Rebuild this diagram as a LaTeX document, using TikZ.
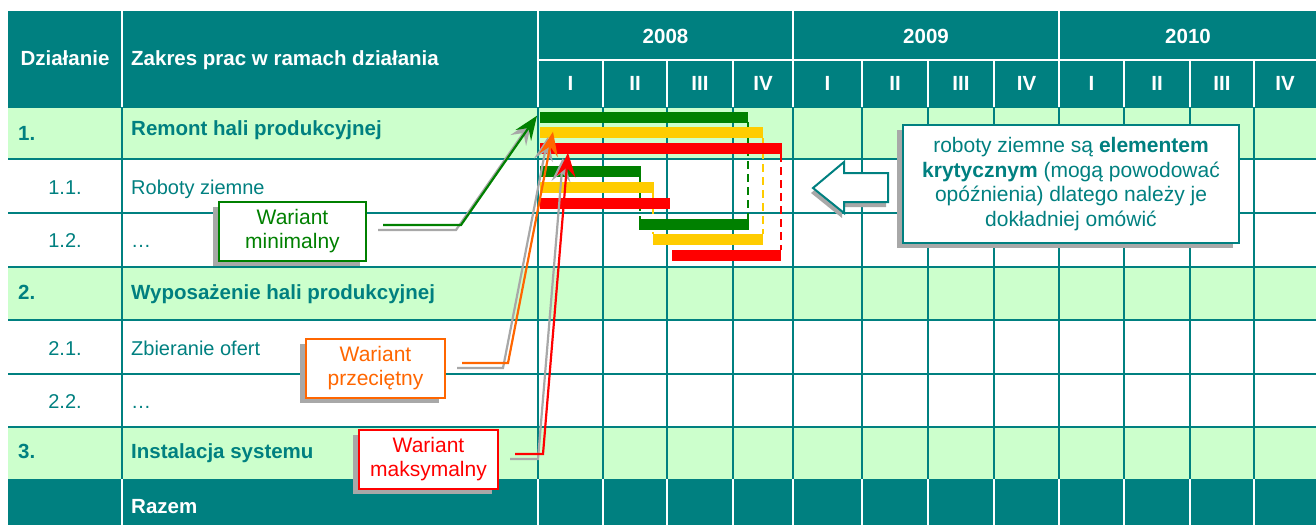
\documentclass[tikz,border=0pt]{standalone}
\usepackage{fontspec}
\setmainfont{Liberation Sans}
\usetikzlibrary{arrows.meta}
\definecolor{teal0}{HTML}{008080}
\definecolor{lgreen}{HTML}{CCFFCC}
\definecolor{dgreen}{HTML}{008000}
\definecolor{ylw}{HTML}{FFCC00}
\definecolor{orng}{HTML}{FF6600}
\definecolor{shad}{HTML}{A8A8A8}
\begin{document}
\begin{tikzpicture}[x=1pt,y=-1pt,
  hdr/.style={inner sep=0pt, text=white, font=\fontsize{20.5}{24}\selectfont\bfseries},
  cell/.style={inner sep=0pt, text=teal0, font=\fontsize{20}{24}\selectfont},
  cellb/.style={inner sep=0pt, text=teal0, font=\fontsize{20.5}{24}\selectfont\bfseries},
  gridT/.style={teal0, line width=2.2pt},
  gridW/.style={white, line width=2.2pt},
  bar/.style={inner sep=0pt, minimum height=11pt, anchor=north west},
  dsh/.style={line width=2.6pt, dash pattern=on 8pt off 5pt},
  callout/.style={draw, line width=2pt, fill=white, inner sep=0pt, minimum height=59pt, align=center, font=\fontsize{21}{24}\selectfont},
  conn/.style={line width=2.2pt, -{Stealth[length=24pt,width=19pt,inset=9pt]}},
  shadowline/.style={conn, shad, transform canvas={xshift=-5pt,yshift=-5pt}},
  boxshadow/.style={fill=shad}
]
\useasboundingbox (0,0) rectangle (1316,525);
% header background
\fill[teal0] (8,11) rectangle (1316,107);
% body rows
\fill[lgreen] (8,107) rectangle (1316,159);
\fill[lgreen] (8,267) rectangle (1316,320);
\fill[lgreen] (8,427) rectangle (1316,479);
\fill[teal0] (8,479) rectangle (1316,525);
% body grid lines
\foreach \y in {107,159,213,267,320,374,427}
  \draw[gridT] (8,\y) -- (1316,\y);
\foreach \x in {122,538,603,667,733,793,862,928,994,1059,1124,1190,1254}
  \draw[gridT] (\x,107) -- (\x,479);
% header white lines
\foreach \x in {122,538,793,1059}
  \draw[gridW] (\x,11) -- (\x,107);
\draw[gridW] (538,60) -- (1316,60);
\foreach \x in {603,667,733,862,928,994,1124,1190,1254}
  \draw[gridW] (\x,60) -- (\x,107);
% Razem white lines
\foreach \x in {122,538,603,667,733,793,862,928,994,1059,1124,1190,1254}
  \draw[gridW] (\x,479) -- (\x,525);
% header texts
\node[hdr, anchor=base] (hd) at (65,65) {Działanie};
\node[hdr, anchor=base west] (hz) at (131,65) {Zakres prac w ramach działania};
\node[hdr, anchor=base] (y8) at (665.5,43) {2008};
\node[hdr, anchor=base] (y9) at (926,43) {2009};
\node[hdr, anchor=base] (y10) at (1188,43) {2010};
\foreach \c/\q [count=\i] in {570.5/I,635/II,700/III,763/IV,827.5/I,895/II,961/III,1026.5/IV,1091.5/I,1157/II,1222/III,1285/IV}
  \node[hdr, anchor=base] (q\i) at (\c,90) {\q};
% row texts
\node[cellb, anchor=base west] (n1) at (18,140) {1.};
\node[cellb, anchor=base west] (t1) at (131,135) {Remont hali produkcyjnej};
\node[cell, anchor=base] (n11) at (65,194) {1.1.};
\node[cell, anchor=base west] (t11) at (131,194) {Roboty ziemne};
\node[cell, anchor=base] (n12) at (65,247) {1.2.};
\node[cell, anchor=base west] (t12) at (131,247) {…};
\node[cellb, anchor=base west] (n2) at (18,299) {2.};
\node[cellb, anchor=base west] (t2) at (131,299) {Wyposażenie hali produkcyjnej};
\node[cell, anchor=base] (n21) at (65,355) {2.1.};
\node[cell, anchor=base west] (t21) at (131,355) {Zbieranie ofert};
\node[cell, anchor=base] (n22) at (65,408) {2.2.};
\node[cell, anchor=base west] (t22) at (131,408) {…};
\node[cellb, anchor=base west] (n3) at (18,458) {3.};
\node[cellb, anchor=base west] (t3) at (131,458) {Instalacja systemu};
\node[hdr, anchor=base west] (tr) at (131,513) {Razem};
% dashed links (behind bars)
\coordinate (dg1) at (748,122); \coordinate (dg3) at (748,219);
\coordinate (dg2) at (640,177); \coordinate (dg4) at (640,219);
\coordinate (dy1) at (763,138); \coordinate (dy3) at (763,234);
\coordinate (dy2) at (653,193); \coordinate (dy4) at (653,234);
\coordinate (dr1) at (781,154); \coordinate (dr3) at (781,250);
\draw[dsh, dgreen] (dg1) -- (dg3);
\draw[dsh, dgreen] (dg2) -- (dg4);
\draw[dsh, ylw] (dy1) -- (dy3);
\draw[dsh, ylw] (dy2) -- (dy4);
\draw[dsh, red] (dr1) -- (dr3);
% bars
\node[bar, fill=dgreen, minimum width=208pt] (g1) at (540,112) {};
\node[bar, fill=ylw,    minimum width=223pt] (y1) at (540,127) {};
\node[bar, fill=red,    minimum width=242pt] (r1) at (540,143) {};
\node[bar, fill=dgreen, minimum width=101pt] (g2) at (540,166) {};
\node[bar, fill=ylw,    minimum width=114pt] (y2) at (540,182) {};
\node[bar, fill=red,    minimum width=130pt] (r2) at (540,198) {};
\node[bar, fill=dgreen, minimum width=110pt] (g3) at (639,219) {};
\node[bar, fill=ylw,    minimum width=110pt] (y3) at (653,234) {};
\node[bar, fill=red,    minimum width=109pt] (r3) at (672,250) {};
% callout boxes (shadows first)
\fill[boxshadow] (213,207) rectangle (360,266);
\fill[boxshadow] (300,344) rectangle (439,403);
\fill[boxshadow] (353,435) rectangle (492,494);
\node[callout, draw=dgreen, text=dgreen, minimum width=147pt] (wmin) at (292.5,231.5) {Wariant\\minimalny};
\node[callout, draw=orng, text=orng, minimum width=139pt] (wprz) at (375.5,368.5) {Wariant\\przeciętny};
\node[callout, draw=red, text=red, minimum width=139pt] (wmax) at (428.5,459.5) {Wariant\\maksymalny};
% connectors
\coordinate (gt) at ([shift={(-3,-2)}]g1.west);
\coordinate (yt) at ([shift={(13,-1)}]y1.west);
\coordinate (rt) at ([shift={(28,4)}]r1.west);
\coordinate (ws) at ([shift={(16,-6.5)}]wmin.east);
\coordinate (ps) at ([shift={(16,-5.5)}]wprz.east);
\coordinate (ms) at ([shift={(16,-5.5)}]wmax.east);
\coordinate (wc) at ([xshift=78]ws);
\coordinate (pc) at ([xshift=46]ps);
\coordinate (mc) at ([xshift=28]ms);
\draw[shadowline] (ws) -- (wc) -- (gt);
\draw[shadowline] (ps) -- (pc) -- (yt);
\draw[shadowline] (ms) -- (mc) -- (rt);
\draw[conn, dgreen] (ws) -- (wc) -- (gt);
\draw[conn, orng] (ps) -- (pc) -- (yt);
\draw[conn, red] (ms) -- (mc) -- (rt);
% block arrow
\fill[shad] (811,193) -- (842,167) -- (842,178) -- (886,178) -- (886,207) -- (842,207) -- (842,218) -- cycle;
\draw[teal0, line width=2pt, fill=white] (813,188) -- (844,162) -- (844,173) -- (888,173) -- (888,202) -- (844,202) -- (844,213) -- cycle;
% note box
\fill[boxshadow] (897,130) rectangle (1233,248);
\node[callout, draw=teal0, text=teal0, minimum width=336pt, minimum height=118pt, align=center, font=\fontsize{21}{24.5}\selectfont] (note) at (1071,184)
  {roboty ziemne są \textbf{elementem}\\\textbf{krytycznym} (mogą powodować\\opóźnienia) dlatego należy je\\dokładniej omówić};
\end{tikzpicture}
\end{document}
